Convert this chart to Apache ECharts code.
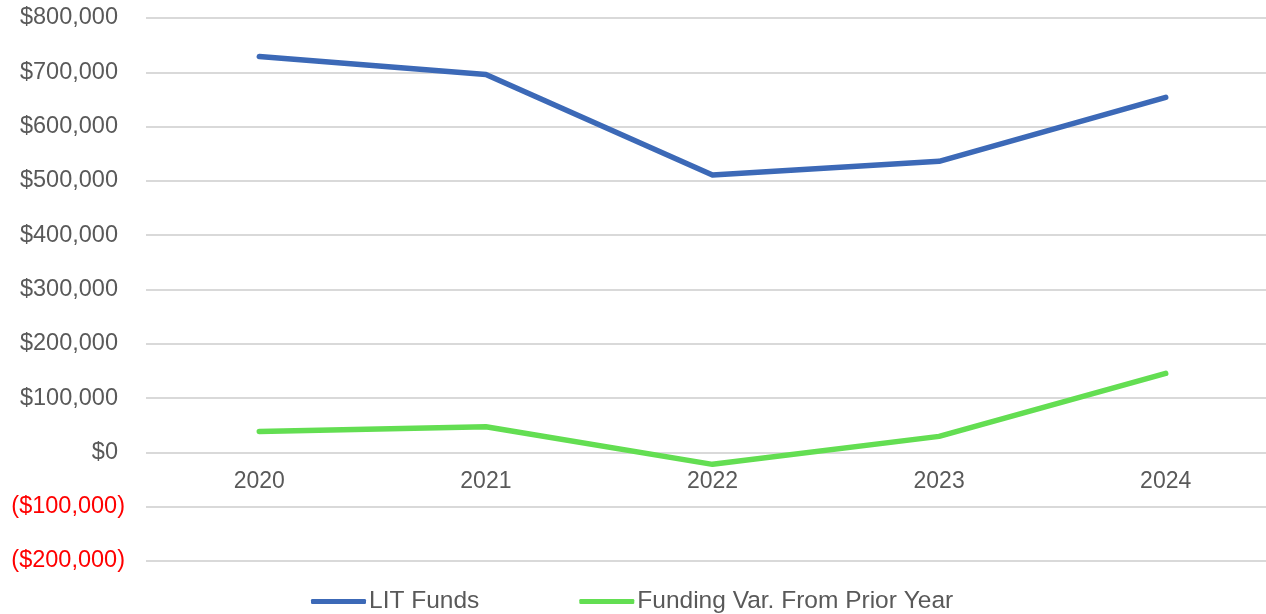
<!DOCTYPE html>
<html>
<head>
<meta charset="utf-8">
<script src="https://cdn.jsdelivr.net/npm/echarts@6/dist/echarts.min.js"></script>
<style>
  html, body { margin: 0; padding: 0; background: #fff; }
  #chart { width: 1266px; height: 614px; }
</style>
</head>
<body>
<div id="chart"></div>
<script>
// chart data
var years = ["2020", "2021", "2022", "2023", "2024"];
var litFunds = [729000, 696000, 511000, 536000, 654000];
var fundingVar = [38700, 47300, -22000, 29500, 145500];

var FONT = "Liberation Sans, Arial, sans-serif";

function money(v) {
  var s = "$" + Math.abs(v).toLocaleString("en-US");
  if (v < 0) return "{neg|(" + s + ")}";
  return "{pos|" + s + "}";
}

var chart = echarts.init(document.getElementById("chart"));
chart.setOption({
  animation: false,
  textStyle: { fontFamily: FONT },
  grid: { left: 146, width: 1133, top: 18, bottom: 53, containLabel: false, outerBoundsMode: "none" },
  legend: {
    bottom: -5,
    left: 306,
    itemWidth: 55,
    itemHeight: 5,
    itemGap: 100,
    icon: "roundRect",
    textStyle: { fontSize: 24.5, color: "#595959", fontFamily: FONT, padding: [0, 0, 0, -2] },
    data: ["LIT Funds", "Funding Var. From Prior Year"]
  },
  xAxis: {
    type: "category",
    data: years,
    boundaryGap: true,
    axisLine: { show: false, onZero: false },
    axisTick: { show: false },
    // labels sit just under the $0 line
    axisLabel: { fontSize: 23, color: "#595959", margin: -91, fontFamily: FONT }
  },
  yAxis: {
    type: "value",
    min: -200000,
    max: 800000,
    interval: 100000,
    axisLine: { show: false },
    axisTick: { show: false },
    splitLine: { lineStyle: { color: "#d9d9d9", width: 2 } },
    axisLabel: {
      margin: 21,
      formatter: money,
      rich: {
        pos: { fontSize: 23.5, color: "#595959", fontFamily: FONT, padding: [0, 7, 0, 0] },
        neg: { fontSize: 23.5, color: "#ff0000", fontFamily: FONT }
      }
    }
  },
  series: [
    {
      name: "LIT Funds",
      type: "line",
      data: litFunds,
      symbol: "none",
      color: "#3C69B7",
      lineStyle: { width: 5.5, cap: "round", join: "round" }
    },
    {
      name: "Funding Var. From Prior Year",
      type: "line",
      data: fundingVar,
      symbol: "none",
      color: "#63DE52",
      lineStyle: { width: 5.5, cap: "round", join: "round" }
    }
  ]
});
</script>
</body>
</html>
